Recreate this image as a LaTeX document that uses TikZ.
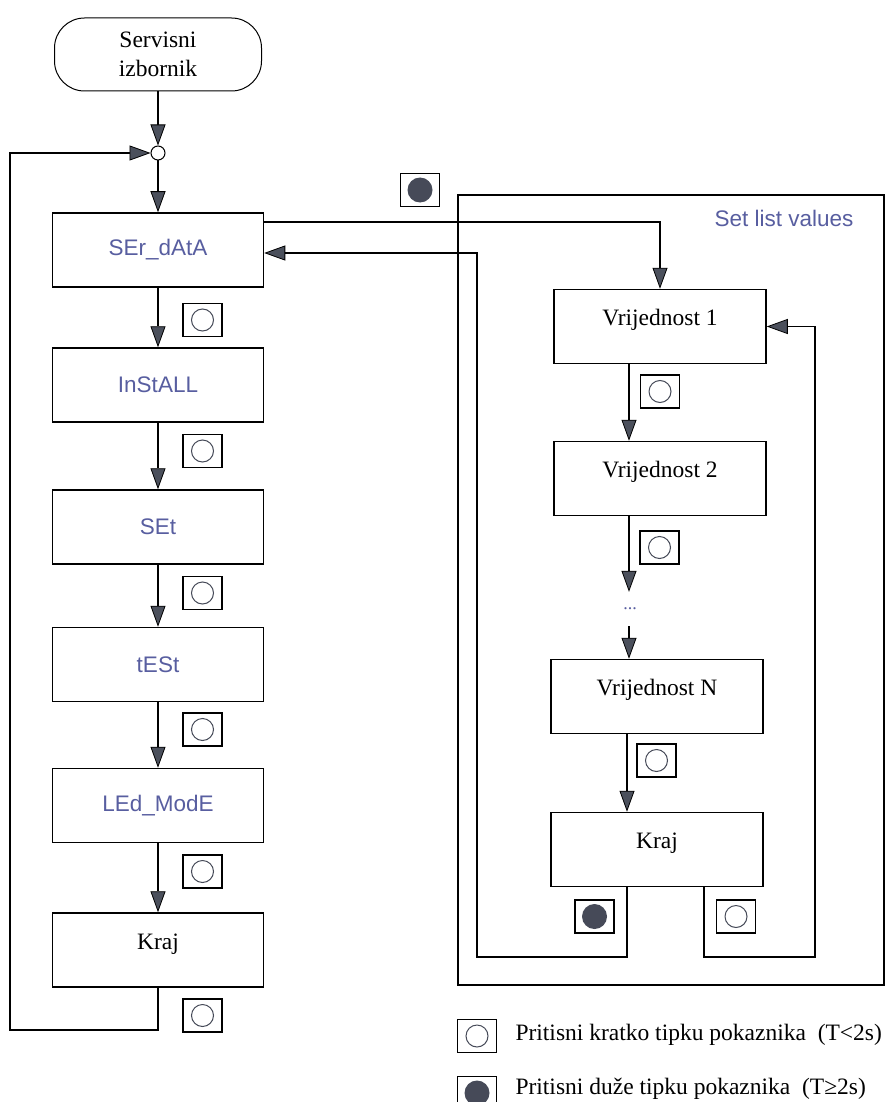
\documentclass[tikz,border=0pt]{standalone}
\usepackage{fontspec}
\setmainfont{Liberation Serif}
\setsansfont{Liberation Sans}
\usetikzlibrary{arrows.meta,calc}
\definecolor{menublue}{RGB}{88,94,160}
\definecolor{tipgray}{RGB}{75,80,92}
\definecolor{icongray}{RGB}{70,74,88}
\tikzset{
  x=1pt, y=-1pt,
  conn/.style={line width=1.5pt},
  arr/.style={conn, -{Triangle[length=21pt,width=15pt,fill=tipgray,line width=0.8pt]}},
  menubox/.style={draw, line width=1.5pt, minimum width=211pt, minimum height=74pt, inner sep=0pt,
     font=\sffamily\fontsize{22.5}{26}\selectfont, text=menublue},
  valbox/.style={draw, line width=1.5pt, minimum width=212pt, minimum height=74pt, inner sep=0pt,
     text height=16pt, text depth=18pt, font=\fontsize{23.5}{27}\selectfont},
  iconbox/.style={draw, line width=1.4pt, minimum width=39pt, minimum height=33pt, inner sep=0pt},
  opencirc/.style={iconbox, path picture={\draw[line width=1pt, icongray] (path picture bounding box.center) circle (11pt);}},
  fullcirc/.style={iconbox, path picture={\fill[icongray] (path picture bounding box.center) circle (12.5pt);}},
}
\begin{document}
\begin{tikzpicture}
\clip (0,0) rectangle (886,1102);
\fill[white] (0,0) rectangle (886,1102);

% start terminal and junction
\node[draw, line width=1pt, rounded corners=30pt, minimum width=207pt, minimum height=73pt,
      align=center, font=\fontsize{23.5}{29}\selectfont] (start) at (158,54.5) {Servisni\\izbornik};
\node[circle, draw, line width=1pt, minimum size=14pt, inner sep=0pt] (junc) at (158,153) {};

% left menu
\node[menubox] (ser)  at (158,250)   {SEr\_dAtA};
\node[menubox] (inst) at (158,385)   {InStALL};
\node[menubox] (set)  at (158,527)   {SEt};
\node[menubox] (test) at (158,664.5) {tESt};
\node[menubox] (led)  at (158,805.5) {LEd\_ModE};
\node[valbox, minimum width=211pt]  (kraj) at (158,950)   {Kraj};

\node[opencirc] (li1) at (202.5,320)   {};
\node[opencirc] (li2) at (202.5,451)   {};
\node[opencirc] (li3) at (202.5,593)   {};
\node[opencirc] (li4) at (202.5,729.5) {};
\node[opencirc] (li5) at (202.5,871.5) {};
\node[opencirc] (li6) at (202.5,1015.5){};

\draw[arr] (start.south) -- (junc.north);
\draw[arr] (junc.south) -- (ser.north);
\draw[arr] (ser.south) -- (inst.north);
\draw[arr] (inst.south) -- (set.north);
\draw[arr] (set.south) -- (test.north);
\draw[arr] (test.south) -- (led.north);
\draw[arr] (led.south) -- (kraj.north);
\draw[arr] (kraj.south) -- ++(0,42) -| (10,153) -- (junc.west);

% right frame
\node[draw, line width=1.5pt, minimum width=426pt, minimum height=790pt, inner sep=0pt] (frame) at (671,590) {};
\node[anchor=east, font=\sffamily\fontsize{22.5}{26}\selectfont, text=menublue] (title) at (857,218) {Set list values};
\node[fullcirc] (topicon) at (420,190) {};

\node[valbox] (v1)    at (660,326.5) {Vrijednost 1};
\node[valbox] (v2)    at (660,478.5) {Vrijednost 2};
\node[inner sep=0pt, minimum height=34pt, font=\fontsize{18}{18}\selectfont, text=menublue] (dots) at (630,609) {...};
\node[valbox] (vn)    at (657,696.5) {Vrijednost N};
\node[valbox] (krajR) at (657,849.5) {Kraj};

\node[opencirc] (ri1) at (660,391.5) {};
\node[opencirc] (ri2) at (659.5,547.5) {};
\node[opencirc] (ri3) at (656.5,760.5) {};
\node[fullcirc] (ri4) at (594.5,916.5) {};
\node[opencirc] (ri5) at (736,916.5) {};

\draw[arr] ([yshift=28pt]ser.east) -| (v1.north);
\draw[arr] ([xshift=-31pt]v1.south) -- ([xshift=-31pt]v2.north);
\draw[arr] ([xshift=-31pt]v2.south) -- ([xshift=-1pt]dots.north);
\draw[arr] ([xshift=-1pt]dots.south) -- ([xshift=-1pt]dots.south |- vn.north);
\draw[arr] ([xshift=-30pt]vn.south) -- ([xshift=-30pt]krajR.north);
\draw[arr] ([xshift=-30pt]krajR.south) |- (477,957) |- ([yshift=-3pt]ser.east);
\draw[arr] ([xshift=47pt]krajR.south) |- (815,957) |- (v1.east);

% legend
\node[opencirc] (lg1) at (477,1036) {};
\node[fullcirc] (lg2) at (477,1093) {};
\node[anchor=west, font=\fontsize{23.5}{27}\selectfont] (lt1) at (512,1035) {Pritisni kratko tipku pokaznika\ \ (T<2s)};
\node[anchor=west, font=\fontsize{23.5}{27}\selectfont] (lt2) at (512,1089) {Pritisni duže tipku pokaznika\ \ (T≥2s)};
\end{tikzpicture}
\end{document}
